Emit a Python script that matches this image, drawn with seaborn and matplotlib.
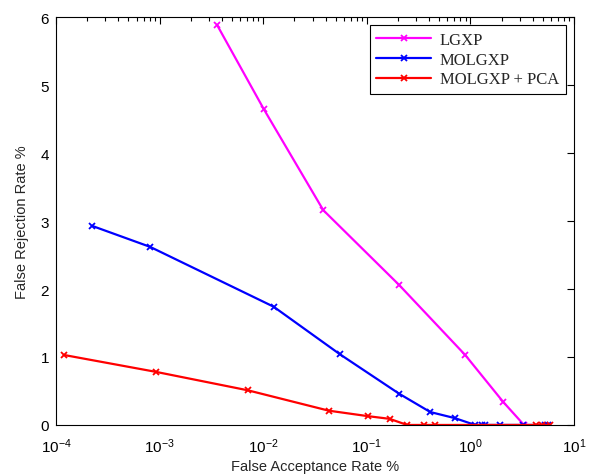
import matplotlib
matplotlib.use("Agg")
import matplotlib.pyplot as plt
import matplotlib.ticker as mticker
import numpy as np
import pandas as pd
import seaborn as sns

# False acceptance rate (%) and false rejection rate (%) for each method
far_lgxp = [0.0036, 0.0101, 0.038, 0.205, 0.89, 2.07, 3.29]
frr_lgxp = [5.88, 4.65, 3.16, 2.06, 1.03, 0.34, 0.0]

far_molgxp = [0.000222, 0.00081, 0.0126, 0.055, 0.205, 0.41, 0.71,
              1.11, 1.29, 1.38, 1.93, 3.22, 5.25, 5.6]
frr_molgxp = [2.93, 2.62, 1.74, 1.04, 0.46, 0.19, 0.10,
              0.0, 0.0, 0.0, 0.0, 0.0, 0.0, 0.0]

far_pca = [0.000119, 0.00093, 0.0071, 0.043, 0.102, 0.166,
           0.245, 0.36, 0.46, 4.3, 4.9, 5.9]
frr_pca = [1.03, 0.78, 0.51, 0.21, 0.13, 0.09,
           0.0, 0.0, 0.0, 0.0, 0.0, 0.0]

labels = ["LGXP", "MOLGXP", "MOLGXP + PCA"]
colors = ["#ff00ff", "#0000ff", "#ff0000"]

df = pd.concat([
    pd.DataFrame({"far": far_lgxp, "frr": frr_lgxp, "method": labels[0]}),
    pd.DataFrame({"far": far_molgxp, "frr": frr_molgxp, "method": labels[1]}),
    pd.DataFrame({"far": far_pca, "frr": frr_pca, "method": labels[2]}),
], ignore_index=True)

sns.set_style("white")
plt.rcParams["font.family"] = ["Liberation Sans", "DejaVu Sans"]
plt.rcParams["mathtext.fontset"] = "custom"
plt.rcParams["mathtext.rm"] = "Liberation Sans"
plt.rcParams["mathtext.it"] = "Liberation Sans"
plt.rcParams["mathtext.default"] = "regular"

fig = plt.figure(figsize=(5.92, 4.77), dpi=100)
ax = fig.add_axes([0.0946, 0.107, 0.875, 0.855])

for name, col in zip(labels, colors):
    sub = df[df["method"] == name]
    sns.lineplot(data=sub, x="far", y="frr", color=col, label=name,
                 estimator=None, sort=False, marker="x", markersize=5,
                 markeredgewidth=1.3, markeredgecolor=col, linewidth=1.6, ax=ax)

ax.set_xscale("log")
ax.set_xlim(1e-4, 10)
ax.set_ylim(0, 6)
ax.set_yticks(range(0, 7))
ax.xaxis.set_major_locator(mticker.LogLocator(base=10, numticks=10))
ax.xaxis.set_minor_locator(mticker.LogLocator(base=10, subs=np.arange(2, 10), numticks=20))
ax.xaxis.set_minor_formatter(mticker.NullFormatter())

ax.tick_params(axis="both", which="both", direction="in", top=True, right=True,
               labelsize=11, colors="black")
ax.tick_params(axis="both", which="major", length=5, width=0.8)
ax.tick_params(axis="x", which="major", pad=8)
ax.tick_params(axis="y", which="major", pad=5)
ax.tick_params(axis="x", which="minor", length=3, width=0.8)
for s in ax.spines.values():
    s.set_edgecolor("black")
    s.set_linewidth(0.8)

ax.set_xlabel("False Acceptance Rate %", fontsize=10.5, labelpad=3)
ax.set_ylabel("False Rejection Rate %", fontsize=10.5, labelpad=8)

leg = ax.legend(loc="upper right", prop={"family": "Liberation Serif", "size": 12},
                frameon=True, fancybox=False, edgecolor="black", framealpha=1,
                handlelength=3.3, borderaxespad=0.5, borderpad=0.4,
                labelspacing=0.22, handletextpad=0.5)
leg.get_frame().set_linewidth(0.8)

fig.savefig("out.png", dpi=100, facecolor="white")
